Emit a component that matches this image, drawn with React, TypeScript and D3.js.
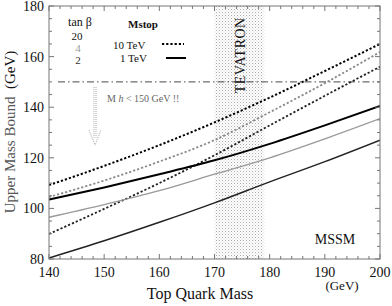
import React from "react";
import * as d3 from "d3";

const topMass = [140, 150, 160, 170, 180, 190, 200];
// tan beta = 20
const tb20_10TeV = [109.2, 116.8, 125, 134, 143.8, 154.3, 165];
const tb20_1TeV = [103.5, 108.3, 113.5, 119, 125.5, 132.8, 140.5];
// tan beta = 4
const tb4_10TeV = [104.5, 111, 118.5, 127, 138, 149.5, 161.8];
const tb4_1TeV = [96.5, 101.5, 107, 113.5, 120, 127.5, 135.5];
// tan beta = 2
const tb2_10TeV = [89.9, 99.8, 110, 121, 132.8, 144.5, 156];
const tb2_1TeV = [80.4, 87.2, 94.5, 102.2, 110.5, 118.5, 127];

const xTicks = [140, 150, 160, 170, 180, 190, 200];
const yTicks = [80, 100, 120, 140, 160, 180];
const tevatron = [170, 179];
const higgsLimit = 150;

const series = [
  { name: "tb20_10", values: tb20_10TeV, color: "#000", dotted: true, w: 2 },
  { name: "tb4_10", values: tb4_10TeV, color: "#8a8a8a", dotted: true, w: 1.8 },
  { name: "tb2_10", values: tb2_10TeV, color: "#222", dotted: true, w: 1.8 },
  { name: "tb20_1", values: tb20_1TeV, color: "#000", dotted: false, w: 2 },
  { name: "tb4_1", values: tb4_1TeV, color: "#999", dotted: false, w: 1.3 },
  { name: "tb2_1", values: tb2_1TeV, color: "#222", dotted: false, w: 1.5 },
];

export default function App() {
  const x = d3.scaleLinear().domain([140, 200]).range([49, 380]);
  const y = d3.scaleLinear().domain([80, 180]).range([259, 6]);
  const line = d3
    .line<[number, number]>()
    .x((d) => x(d[0]))
    .y((d) => y(d[1]))
    .curve(d3.curveMonotoneX);

  const xMinor = d3.range(140, 201, 2);
  const yMinor = d3.range(80, 181, 5);
  const serif = "'Liberation Serif', 'DejaVu Serif', serif";
  const axisColor = "#777";

  return (
    <svg
      width={392}
      height={306}
      style={{ position: "absolute", left: 0, top: 0, background: "#fff" }}
      fontFamily={serif}
    >
      <defs>
        <pattern id="stip" width="3" height="3" patternUnits="userSpaceOnUse">
          <rect width="3" height="3" fill="#fff" />
          <rect x="0" y="0" width="1" height="1" fill="#aaa" />
          <rect x="1.5" y="1.5" width="1" height="1" fill="#ccc" />
        </pattern>
        <clipPath id="plot">
          <rect x={49} y={6} width={331} height={253} />
        </clipPath>
      </defs>

      {/* Tevatron band */}
      <rect
        x={x(tevatron[0])}
        y={y(180)}
        width={x(tevatron[1]) - x(tevatron[0])}
        height={y(80) - y(180)}
        fill="url(#stip)"
      />
      <text
        transform={`translate(${x((tevatron[0] + tevatron[1]) / 2) + 6},${y(160.5)}) rotate(-90)`}
        textAnchor="middle"
        fontSize={14}
        fill="#111"
        letterSpacing={0.5}
      >
        TEVATRON
      </text>

      {/* Higgs limit line */}
      <line
        x1={58}
        x2={x(200)}
        y1={y(higgsLimit)}
        y2={y(higgsLimit)}
        stroke="#333"
        strokeWidth={0.9}
        strokeDasharray="7,3,1.5,3"
      />
      <text x={107} y={102} fontSize={10} fill="#666">
        M <tspan fontStyle="italic">h</tspan> &lt; 150 GeV !!
      </text>
      {/* arrow */}
      <g stroke="#aaa" fill="none" strokeWidth={1}>
        <line x1={94} x2={94} y1={y(148)} y2={y(128)} strokeDasharray="1,1" />
        <line x1={96} x2={96} y1={y(148)} y2={y(128)} strokeDasharray="1,1" />
        <path
          d={`M${89},${y(131)} L${95},${y(125)} L${101},${y(131)}`}
          strokeDasharray="1,1"
        />
      </g>

      {/* curves */}
      <g clipPath="url(#plot)">
        {series.map((s) => (
          <path
            key={s.name}
            d={line(topMass.map((m, i) => [m, s.values[i]]) as [number, number][]) || ""}
            fill="none"
            stroke={s.color}
            strokeWidth={s.w}
            strokeDasharray={s.dotted ? "2.2,2" : undefined}
          />
        ))}
      </g>

      {/* frame */}
      <rect x={49} y={6} width={331} height={253} fill="none" stroke={axisColor} strokeWidth={1} />
      {/* ticks */}
      <g stroke={axisColor} strokeWidth={1}>
        {xMinor.map((t) => {
          const major = t % 10 === 0;
          const len = major ? 5 : 3;
          return (
            <g key={"x" + t}>
              <line x1={x(t)} x2={x(t)} y1={259} y2={259 - len} />
              <line x1={x(t)} x2={x(t)} y1={6} y2={6 + len} />
            </g>
          );
        })}
        {yMinor.map((t) => {
          const major = t % 20 === 0;
          const len = major ? 5 : 3;
          return (
            <g key={"y" + t}>
              <line x1={49} x2={49 + len} y1={y(t)} y2={y(t)} />
              <line x1={380} x2={380 - len} y1={y(t)} y2={y(t)} />
            </g>
          );
        })}
      </g>
      {xTicks.map((t) => (
        <text key={"xl" + t} x={x(t)} y={277} fontSize={14} textAnchor="middle" fill="#111">
          {t}
        </text>
      ))}
      {yTicks.map((t) => (
        <text key={"yl" + t} x={44} y={y(t) + 5} fontSize={14} textAnchor="end" fill="#111">
          {t}
        </text>
      ))}

      {/* axis titles */}
      <text x={200} y={299} fontSize={16} textAnchor="middle" fill="#111">
        Top Quark Mass
      </text>
      <text x={342} y={290} fontSize={13} textAnchor="middle" fill="#111">
        (GeV)
      </text>
      <text
        transform={`translate(15,${132}) rotate(-90)`}
        fontSize={15}
        textAnchor="middle"
        fill="#555"
      >
        Upper Mass Bound{"\u00a0\u00a0"}
        <tspan fill="#111">(GeV)</tspan>
      </text>

      {/* legend */}
      <text x={80} y={26} fontSize={12} textAnchor="middle" fill="#111">
        tan β
      </text>
      <text x={77} y={40} fontSize={11} textAnchor="middle" fill="#111">
        20
      </text>
      <text x={78} y={52} fontSize={11} textAnchor="middle" fill="#999">
        4
      </text>
      <text x={78} y={64} fontSize={11} textAnchor="middle" fill="#333">
        2
      </text>
      <text x={128} y={28} fontSize={11} fill="#111" fontWeight="bold">
        Mstop
      </text>
      <text x={113} y={49} fontSize={11} fill="#111">
        10 TeV
      </text>
      <text x={120} y={62} fontSize={11} fill="#111">
        1 TeV
      </text>
      <line x1={162} x2={184} y1={44} y2={44} stroke="#000" strokeWidth={2} strokeDasharray="2.2,2" />
      <line x1={166} x2={186} y1={58} y2={58} stroke="#000" strokeWidth={2} />

      <text x={335} y={244} fontSize={14} textAnchor="middle" fill="#111">
        MSSM
      </text>
    </svg>
  );
}
